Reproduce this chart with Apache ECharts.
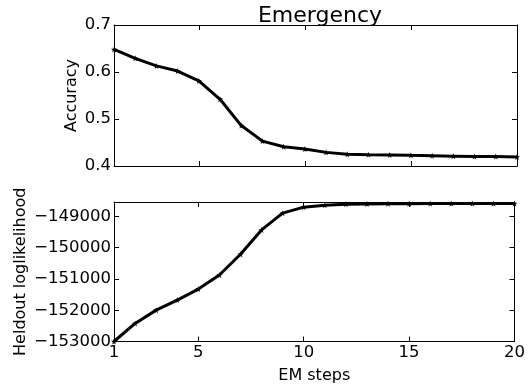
<!DOCTYPE html>
<html><head><meta charset="utf-8">
<script src="https://cdn.jsdelivr.net/npm/echarts@6/dist/echarts.min.js"></script>
<style>html,body{margin:0;padding:0;background:#fff}#c{width:528px;height:387px}</style>
</head><body><div id="c"></div>
<script>
const steps = [1,2,3,4,5,6,7,8,9,10,11,12,13,14,15,16,17,18,19,20];
const accuracy = [0.648,0.629,0.613,0.602,0.581,0.542,0.486,0.453,0.441,0.436,0.429,0.425,0.424,0.4235,0.4227,0.422,0.421,0.420,0.420,0.419];
const loglik = [-153000,-152423,-151997,-151676,-151324,-150875,-150212,-149433,-148897,-148705,-148641,-148609,-148600,-148595,-148592,-148590,-148590,-148589,-148588,-148588];
const xTicks = [1,5,10,15,20];
const accTicks = [0.4,0.5,0.6,0.7];
const llTicks = [-153000,-152000,-151000,-150000,-149000];

const FONT = 'DejaVu Sans';
const star = 'path://M0,-10 L2.35,-3.24 L9.51,-3.09 L3.8,1.24 L5.88,8.09 L0,4 L-5.88,8.09 L-3.8,1.24 L-9.51,-3.09 L-2.35,-3.24 Z';
const fmtMinus = v => String(v).replace('-', '\u2212');

function xAx(grid, pos, labels, name) {
  return {
    type:'value', gridIndex:grid, position:pos, min:1, max:20,
    axisLine:{show:true, onZero:false, lineStyle:{color:'#000', width:1}},
    axisTick:{show:true, inside:true, length:5, customValues:xTicks, lineStyle:{color:'#000'}},
    axisLabel:{show:labels, customValues:xTicks, color:'#000', fontFamily:FONT, fontSize:16.5, margin:3},
    splitLine:{show:false},
    name: name || '', nameLocation:'middle', nameGap:26, nameMoveOverlap:false,
    nameTextStyle:{color:'#000', fontFamily:FONT, fontSize:16}
  };
}
function yAx(grid, pos, min, max, ticks, labels, name, gap) {
  return {
    type:'value', gridIndex:grid, position:pos, min:min, max:max,
    axisLine:{show:true, onZero:false, lineStyle:{color:'#000', width:1}},
    axisTick:{show:true, inside:true, length:5, customValues:ticks, lineStyle:{color:'#000'}},
    axisLabel:{show:labels, customValues:ticks, color:'#000', fontFamily:FONT, fontSize:16.5, margin:3, formatter:fmtMinus},
    splitLine:{show:false},
    name: name || '', nameLocation:'middle', nameGap:gap||0, nameRotate:90, nameMoveOverlap:false,
    nameTextStyle:{color:'#000', fontFamily:FONT, fontSize:16}
  };
}

const chart = echarts.init(document.getElementById('c'), null, {renderer:'canvas'});
chart.setOption({
  animation:false,
  backgroundColor:'#fff',
  title:{text:'Emergency', left:315, top:0, textAlign:'center',
    textStyle:{color:'#000', fontFamily:FONT, fontSize:22, fontWeight:'normal'}},
  grid:[
    {left:114, right:11, top:25, height:141},
    {left:114, right:11, top:202, height:139.5}
  ],
  xAxis:[
    xAx(0,'bottom',false), xAx(0,'top',false),
    xAx(1,'bottom',true,'EM steps'), xAx(1,'top',false)
  ],
  yAxis:[
    yAx(0,'left',0.4,0.7,accTicks,true,'Accuracy',34), yAx(0,'right',0.4,0.7,accTicks,false),
    yAx(1,'left',-153000,-148540,llTicks,true,'Heldout loglikelihood',85), yAx(1,'right',-153000,-148540,llTicks,false)
  ],
  series:[
    {type:'line', xAxisIndex:0, yAxisIndex:0, data:steps.map((s,i)=>[s,accuracy[i]]),
     lineStyle:{color:'#000', width:3}, itemStyle:{color:'#000'}, symbol:star, symbolSize:6, showSymbol:true},
    {type:'line', xAxisIndex:2, yAxisIndex:2, data:steps.map((s,i)=>[s,loglik[i]]),
     lineStyle:{color:'#000', width:3}, itemStyle:{color:'#000'}, symbol:star, symbolSize:6, showSymbol:true}
  ]
});
</script></body></html>
